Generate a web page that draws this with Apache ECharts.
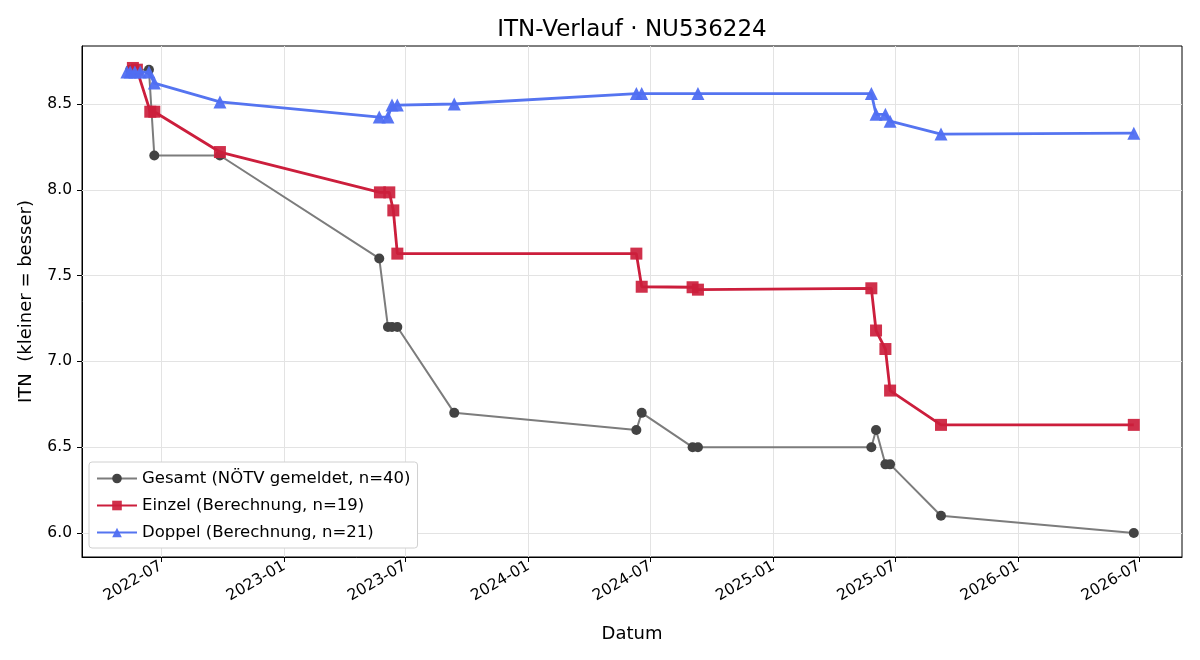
<!DOCTYPE html>
<html>
<head>
<meta charset="utf-8">
<title>ITN-Verlauf</title>
<script src="https://cdn.jsdelivr.net/npm/echarts@6/dist/echarts.min.js"></script>
<style>
  html, body { margin: 0; padding: 0; background: #fff; }
  #chart { width: 1200px; height: 660px; }
</style>
</head>
<body>
<div id="chart"></div>
<script>
// Gesamt (NÖTV gemeldet)
const gesamtDates = ['2022-05-16', '2022-05-23', '2022-06-13', '2022-06-21', '2022-09-27',
  '2023-05-23', '2023-06-05', '2023-06-11', '2023-06-19', '2023-09-12',
  '2024-06-10', '2024-06-18', '2024-09-02', '2024-09-10',
  '2025-05-27', '2025-06-03', '2025-06-17', '2025-06-24', '2025-09-08', '2026-06-23'];
const gesamtValues = [8.7, 8.7, 8.7, 8.2, 8.2,
  7.6, 7.2, 7.2, 7.2, 6.7,
  6.6, 6.7, 6.5, 6.5,
  6.5, 6.6, 6.4, 6.4, 6.1, 6.0];

// Einzel (Berechnung)
const einzelDates = ['2022-05-20', '2022-05-26', '2022-06-15', '2022-06-21', '2022-09-27',
  '2023-05-24', '2023-06-07', '2023-06-13', '2023-06-19',
  '2024-06-10', '2024-06-18', '2024-09-02', '2024-09-10',
  '2025-05-27', '2025-06-03', '2025-06-17', '2025-06-24', '2025-09-08', '2026-06-23'];
const einzelValues = [8.71, 8.70, 8.455, 8.455, 8.22,
  7.985, 7.985, 7.88, 7.628,
  7.628, 7.435, 7.432, 7.418,
  7.426, 7.18, 7.072, 6.83, 6.63, 6.63];

// Doppel (Berechnung)
const doppelDates = ['2022-05-11', '2022-05-16', '2022-05-23', '2022-05-31', '2022-06-13', '2022-06-21',
  '2022-09-27', '2023-05-23', '2023-06-05', '2023-06-11', '2023-06-19', '2023-09-12',
  '2024-06-10', '2024-06-18', '2024-09-10',
  '2025-05-27', '2025-06-03', '2025-06-17', '2025-06-24', '2025-09-08', '2026-06-23'];
const doppelValues = [8.686, 8.686, 8.686, 8.686, 8.686, 8.622,
  8.512, 8.424, 8.424, 8.494, 8.494, 8.50,
  8.561, 8.561, 8.561,
  8.561, 8.44, 8.44, 8.40, 8.325, 8.33];

const xTicks = ['2022-07-01', '2023-01-01', '2023-07-01', '2024-01-01', '2024-07-01',
  '2025-01-01', '2025-07-01', '2026-01-01', '2026-07-01'];
const yTicks = [6.0, 6.5, 7.0, 7.5, 8.0, 8.5];

const toPairs = (d, v) => d.map((x, i) => [x, v[i]]);
const xTickTimes = xTicks.map(t => +echarts.time.parse(t));

var myChart = echarts.init(document.getElementById('chart'));

var option = {
  animation: false,
  textStyle: { fontFamily: 'DejaVu Sans' },
  title: {
    text: 'ITN-Verlauf · NU536224',
    left: 627,
    textAlign: 'center',
    top: 14,
    textStyle: { fontSize: 23, fontWeight: 'normal', color: '#000', fontFamily: 'DejaVu Sans' }
  },
  grid: {
    left: 82, right: 18, top: 46, bottom: 103,
    show: true, borderColor: '#000', borderWidth: 1, backgroundColor: 'transparent'
  },
  legend: {
    orient: 'vertical',
    left: 89, top: 462,
    z: 20,
    padding: [8, 7, 7, 7],
    itemGap: 10,
    itemWidth: 40,
    itemHeight: 12,
    backgroundColor: '#fff',
    borderColor: '#d0d0d0',
    borderWidth: 1,
    borderRadius: 3,
    textStyle: { fontSize: 16.5, color: '#000', fontFamily: 'DejaVu Sans' },
    data: ['Gesamt (NÖTV gemeldet, n=40)', 'Einzel (Berechnung, n=19)', 'Doppel (Berechnung, n=21)']
  },
  xAxis: {
    type: 'time',
    min: '2022-03-05',
    max: '2026-09-03',
    name: 'Datum',
    nameLocation: 'middle',
    nameGap: 68,
    nameTextStyle: { fontSize: 18, color: '#000' },
    axisLine: { show: true, lineStyle: { color: '#000' } },
    axisTick: { show: true, length: 5, lineStyle: { color: '#000' }, customValues: xTickTimes },
    axisLabel: {
      customValues: xTickTimes,
      rotate: 30,
      fontSize: 15.5,
      color: '#000',
      margin: 8,
      formatter: '{yyyy}-{MM}'
    },
    splitLine: { show: false }
  },
  yAxis: {
    type: 'value',
    min: 5.86,
    max: 8.838,
    name: 'ITN  (kleiner = besser)',
    nameLocation: 'middle',
    nameGap: 47,
    nameTextStyle: { fontSize: 18, color: '#000' },
    axisLine: { show: true, lineStyle: { color: '#000' } },
    axisTick: { show: true, length: 5, lineStyle: { color: '#000' }, customValues: yTicks },
    axisLabel: {
      customValues: yTicks,
      fontSize: 15.5,
      color: '#000',
      margin: 10,
      formatter: v => v.toFixed(1)
    },
    splitLine: { show: false }
  },
  series: [
    {
      name: 'Gesamt (NÖTV gemeldet, n=40)',
      type: 'line',
      data: toPairs(gesamtDates, gesamtValues),
      symbol: 'circle',
      symbolSize: 10,
      lineStyle: { color: '#7c7c7c', width: 2 },
      itemStyle: { color: '#434343', opacity: 1 },
      color: '#6e6e6e',
      z: 2,
      markLine: {
        silent: true,
        symbol: 'none',
        z: 1,
        label: { show: false },
        lineStyle: { color: '#e3e3e3', width: 1, type: 'solid' },
        data: xTickTimes.map(t => ({ xAxis: t })).concat(yTicks.map(v => ({ yAxis: v })))
      }
    },
    {
      name: 'Einzel (Berechnung, n=19)',
      type: 'line',
      data: toPairs(einzelDates, einzelValues),
      symbol: 'rect',
      symbolSize: 12,
      lineStyle: { color: '#cc1e3c', width: 2.8 },
      itemStyle: { color: '#cc1e3c', opacity: 0.92 },
      color: '#cc1e3c',
      z: 3
    },
    {
      name: 'Doppel (Berechnung, n=21)',
      type: 'line',
      data: toPairs(doppelDates, doppelValues),
      symbol: 'triangle',
      symbolSize: 13,
      lineStyle: { color: '#5574f0', width: 2.8 },
      itemStyle: { color: '#4f6ef2', opacity: 0.95 },
      color: '#5574f0',
      z: 4
    }
  ]
};

myChart.setOption(option);
window.addEventListener('resize', function () { myChart.resize(); });
</script>
</body>
</html>
